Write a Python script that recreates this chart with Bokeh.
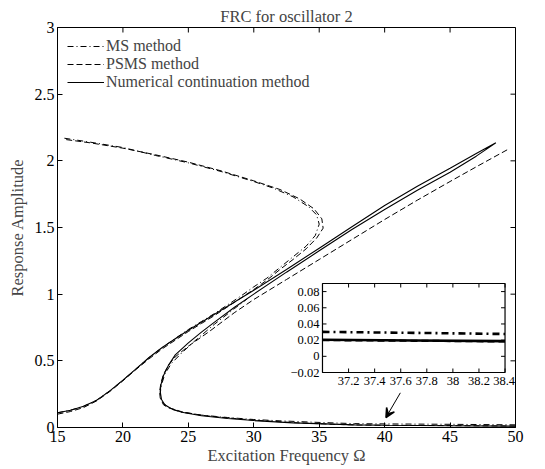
from bokeh.plotting import figure
from bokeh.models import (Range1d, FixedTicker, Legend, LegendItem, Arrow, VeeHead,
                          LabelSet, ColumnDataSource)
from bokeh.embed import file_html
from bokeh.resources import INLINE

# ---------------- data ----------------
x_ticks = [15, 20, 25, 30, 35, 40, 45, 50]
x_tick_labels = ["15", "20", "25", "30", "35", "40", "45", "50"]
y_ticks = [0, 0.5, 1, 1.5, 2, 2.5, 3]
y_tick_labels = ["0", "0.5", "1", "1.5", "2", "2.5", "3"]

# Numerical continuation (solid): rising branch -> fold -> middle branch -> fold -> lower branch
nc_x = [15.0, 16.0, 17.0, 18.0, 19.0, 20.0, 21.0, 22.0, 23.0, 24.0, 25.0, 26.0, 27.0, 28.0,
        29.0, 30.0, 32.5, 35.0, 37.5, 40.0, 42.5, 45.0, 47.0, 48.5,
        47.0, 45.0, 42.5, 40.0, 37.5, 35.0, 32.5, 30.0, 28.5, 27.0, 26.0, 25.0, 24.0,
        23.5, 23.1, 22.9, 22.85, 22.95, 23.2, 23.7, 24.5, 26.0, 28.0, 30.0, 33.0, 36.0,
        37.7, 40.0, 45.0, 50.0]
nc_y = [0.110, 0.130, 0.160, 0.205, 0.275, 0.355, 0.440, 0.525, 0.600, 0.665, 0.730, 0.790,
        0.850, 0.910, 0.970, 1.030, 1.185, 1.345, 1.505, 1.665, 1.810, 1.945, 2.055, 2.135,
        2.035, 1.915, 1.780, 1.635, 1.485, 1.325, 1.165, 1.000, 0.900, 0.790, 0.715, 0.635,
        0.545, 0.470, 0.390, 0.320, 0.270, 0.210, 0.170, 0.140, 0.115, 0.088, 0.068, 0.052,
        0.035, 0.025, 0.0196, 0.017, 0.013, 0.010]

# PSMS (dashed): branch A (rising -> fold near 35 -> upper-left), branch B (lower -> fold -> upper-right)
psms_a_x = [15.0, 16.0, 17.0, 18.0, 19.0, 20.0, 21.0, 22.0, 23.0, 24.0, 25.0, 26.0, 27.0,
            28.0, 29.0, 30.0, 31.0, 32.0, 33.0, 34.0, 34.8, 35.3, 35.2, 34.6, 33.5, 32.0,
            30.0, 27.5, 25.0, 22.5, 20.0, 17.5, 15.6]
psms_a_y = [0.100, 0.120, 0.150, 0.200, 0.270, 0.350, 0.435, 0.515, 0.590, 0.655, 0.720,
            0.780, 0.840, 0.905, 0.970, 1.035, 1.105, 1.185, 1.260, 1.340, 1.420, 1.495,
            1.565, 1.640, 1.715, 1.785, 1.850, 1.925, 1.990, 2.045, 2.095, 2.135, 2.160]
psms_b_x = [50.0, 45.0, 40.0, 37.7, 36.0, 33.0, 30.0, 28.0, 26.0, 24.5, 23.6, 23.1, 22.85,
            22.8, 22.9, 23.1, 23.5, 24.0, 25.0, 26.6, 28.5, 30.0, 32.5, 35.0, 37.5, 40.0,
            42.5, 45.0, 47.0, 49.5]
psms_b_y = [0.011, 0.014, 0.017, 0.0192, 0.024, 0.037, 0.055, 0.072, 0.092, 0.118, 0.146,
            0.180, 0.220, 0.270, 0.330, 0.400, 0.470, 0.530, 0.610, 0.720, 0.860, 0.960,
            1.110, 1.260, 1.410, 1.560, 1.705, 1.845, 1.955, 2.090]

# MS (dash-dot): branch A (rising -> fold near 35 -> upper-left), branch B (lower -> fold -> middle)
ms_a_x = [15.0, 16.0, 17.0, 18.0, 19.0, 20.0, 21.0, 22.0, 23.0, 24.0, 25.0, 26.0, 27.0, 28.0,
          29.0, 30.0, 31.0, 32.0, 33.0, 34.0, 34.7, 35.0, 34.8, 34.2, 33.0, 31.5, 30.0, 27.5,
          25.0, 22.5, 20.0, 17.5, 15.5]
ms_a_y = [0.110, 0.130, 0.160, 0.205, 0.275, 0.355, 0.440, 0.525, 0.600, 0.668, 0.735,
          0.795, 0.855, 0.920, 0.985, 1.055, 1.120, 1.200, 1.280, 1.360, 1.440, 1.525,
          1.595, 1.655, 1.730, 1.795, 1.845, 1.920, 1.985, 2.040, 2.100, 2.140, 2.170]
ms_b_x = [50.0, 45.0, 40.0, 37.7, 35.0, 32.0, 30.0, 28.0, 26.0, 24.5, 23.6, 23.1, 22.9,
          22.85, 22.95, 23.2, 23.7, 24.5, 25.5, 27.0, 28.5, 29.5]
ms_b_y = [0.020, 0.024, 0.027, 0.029, 0.038, 0.050, 0.060, 0.075, 0.093, 0.115, 0.140,
          0.170, 0.210, 0.260, 0.320, 0.400, 0.480, 0.560, 0.650, 0.775, 0.890, 0.965]

# inset (zoom of the lower branch)
inset_x = [37.0, 37.7, 38.4]
inset_ms = [0.0302, 0.0290, 0.0276]
inset_nc = [0.0204, 0.0196, 0.0188]
inset_psms = [0.0200, 0.0192, 0.0184]
inset_x_ticks = [37.2, 37.4, 37.6, 37.8, 38.0, 38.2, 38.4]
inset_x_labels = ["37.2", "37.4", "37.6", "37.8", "38", "38.2", "38.4"]
inset_y_ticks = [-0.02, 0.0, 0.02, 0.04, 0.06, 0.08]
inset_y_labels = ["\u22120.02", "0", "0.02", "0.04", "0.06", "0.08"]
inset_xlim = [37.0, 38.4]
inset_ylim = [-0.02, 0.09]

# arrow pointing at the zoomed region
arrow_x = [41.2, 40.1]
arrow_y = [0.26, 0.075]

# ---------------- layout / style ----------------
FONT = "Liberation Serif"
XR = (15, 50)
YR = (0, 3)
W, H = 545, 469
BL, BT, FW, FH = 57, 27, 458, 400          # frame position / size in px
# inset box position, expressed in main-axes data units
BOX_X = (35.25, 49.20)
BOX_Y = (0.4125, 1.08)
INSET_FS = 12.5                            # inset tick label size (px)

p = figure(width=W, height=H, x_range=Range1d(*XR), y_range=Range1d(*YR),
           output_backend="svg", toolbar_location=None,
           min_border_left=BL, min_border_right=W - BL - FW,
           min_border_top=BT, min_border_bottom=H - BT - FH)
p.background_fill_color = "white"
p.border_fill_color = "white"
p.outline_line_color = "black"
p.outline_line_width = 1
p.xgrid.visible = False
p.ygrid.visible = False

p.title.text = "FRC for oscillator 2"
p.title.align = "center"
p.title.vertical_align = "top"
p.title.text_font = FONT
p.title.text_font_size = "16.5px"
p.title.text_font_style = "normal"
p.title.standoff = 0
p.title.offset = 0

def style_axis(ax, ticks, labels):
    ax.ticker = FixedTicker(ticks=ticks)
    ax.major_tick_in = 5
    ax.major_tick_out = 0
    ax.minor_tick_line_color = None
    ax.axis_line_color = "black"
    ax.major_tick_line_color = "black"
    ax.major_label_text_font = FONT
    ax.major_label_text_font_size = "16px"
    ax.major_label_text_color = "black"
    ax.axis_label_text_font = FONT
    ax.axis_label_text_font_size = "16.5px"
    ax.axis_label_text_font_style = "normal"
    ax.major_label_overrides = {float(t): l for t, l in zip(ticks, labels)}
    ax.major_label_standoff = 3

style_axis(p.xaxis[0], x_ticks, x_tick_labels)
style_axis(p.yaxis[0], y_ticks, y_tick_labels)
p.xaxis[0].axis_label = "Excitation Frequency \u03a9"
p.xaxis[0].axis_label_standoff = 1
p.yaxis[0].axis_label = "Response Amplitude"
p.yaxis[0].axis_label_standoff = 5

# inward ticks on the top and right edges of the box
tkx = 5 * (XR[1] - XR[0]) / FW
tky = 5 * (YR[1] - YR[0]) / FH
p.segment(x0=x_ticks, x1=x_ticks, y0=[YR[1]] * len(x_ticks), y1=[YR[1] - tky] * len(x_ticks),
          line_color="black", line_width=1)
p.segment(x0=[XR[1]] * len(y_ticks), x1=[XR[1] - tkx] * len(y_ticks), y0=y_ticks, y1=y_ticks,
          line_color="black", line_width=1)

DASH = "6 3"
DASHDOT = "6 3 1 3"

r_nc = p.line(nc_x, nc_y, line_color="black", line_width=1.1)
r_ps = p.line(psms_a_x, psms_a_y, line_color="black", line_width=1.0, line_dash=DASH)
p.line(psms_b_x, psms_b_y, line_color="black", line_width=1.0, line_dash=DASH)
r_ms = p.line(ms_a_x, ms_a_y, line_color="black", line_width=1.0, line_dash=DASHDOT)
p.line(ms_b_x, ms_b_y, line_color="black", line_width=1.0, line_dash=DASHDOT)

# ---------------- inset (own ranges mapped onto a sub-box of the frame) ----------------
sx = (inset_xlim[1] - inset_xlim[0]) / (BOX_X[1] - BOX_X[0])
sy = (inset_ylim[1] - inset_ylim[0]) / (BOX_Y[1] - BOX_Y[0])
p.extra_x_ranges = {"ix": Range1d(inset_xlim[0] - (BOX_X[0] - XR[0]) * sx,
                                  inset_xlim[1] + (XR[1] - BOX_X[1]) * sx)}
p.extra_y_ranges = {"iy": Range1d(inset_ylim[0] - (BOX_Y[0] - YR[0]) * sy,
                                  inset_ylim[1] + (YR[1] - BOX_Y[1]) * sy)}
IK = dict(x_range_name="ix", y_range_name="iy")

p.quad(left=[inset_xlim[0]], right=[inset_xlim[1]], bottom=[inset_ylim[0]], top=[inset_ylim[1]],
       fill_color="white", line_color="black", line_width=1.2, **IK)

p.line(inset_x, inset_psms, line_color="black", line_width=2.2, line_dash="7 4", **IK)
p.line(inset_x, inset_nc, line_color="black", line_width=2.6, **IK)
p.line(inset_x, inset_ms, line_color="black", line_width=2.6, line_dash="7 4 2 4", **IK)

# inset ticks (inward, on all sides)
px_w = (BOX_X[1] - BOX_X[0]) * FW / (XR[1] - XR[0])
px_h = (BOX_Y[1] - BOX_Y[0]) * FH / (YR[1] - YR[0])
tly = 4 * (inset_ylim[1] - inset_ylim[0]) / px_h
tlx = 4 * (inset_xlim[1] - inset_xlim[0]) / px_w
xt = inset_x_ticks
p.segment(x0=xt, x1=xt, y0=[inset_ylim[0]] * len(xt), y1=[inset_ylim[0] + tly] * len(xt),
          line_color="black", line_width=1, **IK)
p.segment(x0=xt, x1=xt, y0=[inset_ylim[1]] * len(xt), y1=[inset_ylim[1] - tly] * len(xt),
          line_color="black", line_width=1, **IK)
yt = inset_y_ticks
p.segment(x0=[inset_xlim[0]] * len(yt), x1=[inset_xlim[0] + tlx] * len(yt), y0=yt, y1=yt,
          line_color="black", line_width=1, **IK)
p.segment(x0=[inset_xlim[1]] * len(yt), x1=[inset_xlim[1] - tlx] * len(yt), y0=yt, y1=yt,
          line_color="black", line_width=1, **IK)

# inset tick labels; the last one is nudged (at most 2px) to stay inside the main frame
box_right_px = BL + (BOX_X[1] - XR[0]) * FW / (XR[1] - XR[0])
half_w = 0.5 * 1.75 * INSET_FS
last_nudge = max(-2.0, min(0.0, (BL + FW - 0.5) - (box_right_px + half_w)))
nudge = [0.0] * (len(xt) - 1) + [last_nudge]
xl_src = ColumnDataSource(dict(x=xt, y=[inset_ylim[0]] * len(xt), t=inset_x_labels, dx=nudge))
yl_src = ColumnDataSource(dict(x=[inset_xlim[0]] * len(yt), y=yt, t=inset_y_labels))
p.add_layout(LabelSet(source=xl_src, x="x", y="y", text="t", text_align="center",
                      text_baseline="top", x_offset="dx", y_offset=-4,
                      text_font_size=f"{INSET_FS}px", text_font=FONT, text_color="black", **IK))
p.add_layout(LabelSet(source=yl_src, x="x", y="y", text="t", text_align="right",
                      text_baseline="middle", x_offset=-3, text_font_size=f"{INSET_FS}px",
                      text_font=FONT, text_color="black", **IK))

# arrow
p.add_layout(Arrow(end=VeeHead(size=9, fill_color="black", line_color="black", line_width=1.5),
                   x_start=arrow_x[0], y_start=arrow_y[0], x_end=arrow_x[1], y_end=arrow_y[1],
                   line_color="black", line_width=1))

# legend
legend = Legend(items=[LegendItem(label="MS method", renderers=[r_ms]),
                       LegendItem(label="PSMS method", renderers=[r_ps]),
                       LegendItem(label="Numerical continuation method", renderers=[r_nc])],
                location="top_left", border_line_color=None, background_fill_alpha=0,
                label_text_font=FONT, label_text_font_size="16px", glyph_width=37,
                glyph_height=18, label_height=18, label_standoff=2, spacing=0, padding=0,
                margin=10)
p.add_layout(legend)

open("out.html", "w").write(file_html(p, INLINE))
